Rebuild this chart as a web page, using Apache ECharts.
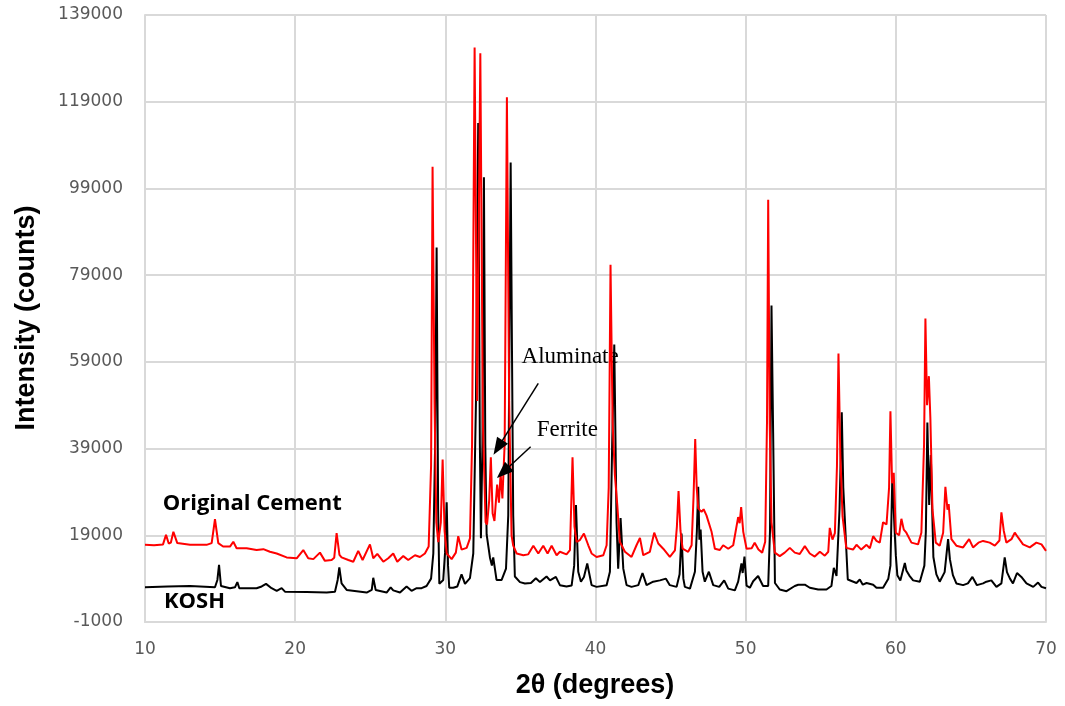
<!DOCTYPE html>
<html>
<head>
<meta charset="utf-8">
<script src="https://cdn.jsdelivr.net/npm/echarts@6/dist/echarts.min.js"></script>
<style>
  html, body { margin: 0; padding: 0; background: #ffffff; }
  #chart { width: 1065px; height: 706px; }
</style>
</head>
<body>
<div id="chart"></div>
<script>
// XRD patterns: [2θ (degrees), intensity (counts)]
const cementPattern = [
  [10.0,16800],[10.6,16700],[11.2,16900],[11.4,19100],[11.58,17100],[11.72,17300],[11.89,19800],[12.15,17200],
  [13.0,16800],[14.1,16800],[14.44,17200],[14.66,22700],[14.88,17200],[15.2,16400],[15.66,16400],[15.88,17500],
  [16.1,16000],[16.77,16000],[17.43,15600],[17.88,15800],[18.32,15200],[18.77,14800],[19.43,13900],[20.1,13700],
  [20.54,15600],[20.87,13700],[21.21,13500],[21.65,15000],[21.98,13100],[22.43,13300],[22.6,13800],[22.76,19500],
  [22.95,14500],[23.09,13900],[23.54,13300],[23.87,12900],[24.2,15400],[24.49,13300],[24.98,16900],[25.2,13700],
  [25.47,14700],[25.87,12900],[26.2,13700],[26.53,14800],[26.8,12900],[27.2,14200],[27.53,13300],[27.98,14400],
  [28.31,14000],[28.64,14800],[28.89,16400],[29.05,35000],[29.15,104000],[29.28,50000],[29.4,22000],[29.53,17400],
  [29.7,22000],[29.82,36500],[29.95,20000],[30.09,14800],[30.42,13500],[30.7,15000],[30.86,18800],[31.08,15700],
  [31.42,16100],[31.64,18300],[31.78,40000],[31.95,131500],[32.12,50000],[32.33,130200],[32.5,45000],[32.68,22000],
  [32.78,21500],[32.92,27000],[33.03,37000],[33.15,24000],[33.27,22300],[33.45,30700],[33.57,26500],[33.68,33200],
  [33.8,27500],[33.95,40000],[34.1,120000],[34.25,50000],[34.41,19000],[34.52,16600],[34.75,14800],[35.19,14400],
  [35.52,14600],[35.86,16600],[36.19,14800],[36.52,16600],[36.81,14800],[37.08,16600],[37.41,14400],[37.63,15200],
  [38.07,14600],[38.3,15600],[38.47,37000],[38.6,21000],[38.74,17500],[38.96,17900],[39.23,19400],[39.52,16700],
  [39.74,14800],[40.07,14000],[40.52,14400],[40.74,16700],[40.88,30000],[41.0,81400],[41.14,45000],[41.29,32900],
  [41.45,26000],[41.62,17500],[41.96,15200],[42.4,14000],[42.73,16700],[42.96,18400],[43.18,14400],[43.62,15200],
  [43.91,19600],[44.18,17100],[44.51,15900],[44.95,14000],[45.29,15500],[45.42,21000],[45.53,29200],[45.66,20000],
  [45.8,15900],[46.17,15200],[46.4,16700],[46.53,28000],[46.64,41200],[46.74,30000],[46.84,25200],[47.06,24400],
  [47.2,25000],[47.39,23600],[47.73,19800],[47.95,15900],[48.28,15600],[48.5,16700],[48.84,15900],[49.17,16700],
  [49.5,23200],[49.6,21800],[49.7,25500],[49.84,19800],[50.06,15900],[50.4,16000],[50.6,17300],[50.85,15700],
  [51.1,15000],[51.3,17500],[51.42,45000],[51.5,96400],[51.6,45000],[51.72,22000],[51.94,15000],[52.27,14200],
  [52.6,15000],[52.94,16100],[53.27,15000],[53.6,14700],[53.94,16500],[54.27,14800],[54.6,14100],[54.94,15200],
  [55.27,14300],[55.5,15200],[55.6,20700],[55.78,18000],[55.94,19500],[56.08,35000],[56.18,60900],[56.3,38000],
  [56.45,23400],[56.7,16100],[57.15,15700],[57.38,16800],[57.7,15700],[58.05,16800],[58.27,16000],[58.49,18800],
  [58.71,17700],[58.93,17300],[59.15,22000],[59.38,21500],[59.55,30000],[59.64,47600],[59.75,31000],[59.86,33400],
  [60.0,19600],[60.22,19000],[60.37,22800],[60.53,20300],[60.7,19600],[61.04,17300],[61.48,16900],[61.7,19600],
  [61.88,40000],[61.97,69000],[62.08,49000],[62.2,55700],[62.3,46000],[62.44,24900],[62.66,17300],[62.92,16600],
  [63.15,19600],[63.3,30200],[63.44,24900],[63.52,26200],[63.7,18100],[64.03,16600],[64.48,16200],[64.88,18100],
  [65.14,16200],[65.5,17300],[65.81,17700],[66.25,17300],[66.59,16600],[66.9,17800],[67.03,24300],[67.19,20000],
  [67.36,17300],[67.7,18100],[67.92,19600],[68.14,18500],[68.47,16900],[68.92,16200],[69.36,17300],[69.7,16900],
  [70.0,15400]
];

const koshPattern = [
  [10.0,7000],[11.5,7200],[13.0,7300],[14.66,7000],[14.82,8700],[14.93,12200],[15.06,7300],[15.66,6800],
  [15.99,7000],[16.15,8200],[16.28,6800],[17.43,6800],[17.77,7200],[18.06,7800],[18.43,6800],[18.77,6200],
  [19.1,6800],[19.32,6000],[20.76,5900],[22.1,5800],[22.65,6000],[22.83,8700],[22.94,11600],[23.09,7900],
  [23.43,6400],[24.76,5800],[25.1,6400],[25.2,9200],[25.36,6400],[26.09,5800],[26.36,7000],[26.53,6300],
  [26.64,6500],[26.98,5800],[27.42,7200],[27.75,6200],[28.09,6800],[28.42,6800],[28.75,7300],[29.05,9000],
  [29.2,14800],[29.32,40000],[29.42,85400],[29.52,25000],[29.6,7800],[29.86,8700],[29.98,15000],[30.09,26600],
  [30.18,12000],[30.26,6900],[30.53,6900],[30.8,7200],[31.08,10000],[31.31,7800],[31.64,9100],[31.86,14800],
  [32.04,50000],[32.19,114100],[32.3,40000],[32.37,18300],[32.47,40000],[32.57,101600],[32.66,40000],[32.75,19200],
  [32.97,13900],[33.1,12000],[33.19,13900],[33.41,8700],[33.75,8700],[34.04,11300],[34.19,23600],[34.35,105000],
  [34.44,60800],[34.52,23600],[34.63,9500],[34.97,8200],[35.3,7900],[35.7,8000],[36.03,9100],[36.3,8200],
  [36.74,9500],[36.97,8600],[37.36,9400],[37.63,7500],[38.07,7200],[38.41,7400],[38.58,12000],[38.7,26000],
  [38.85,10600],[39.03,8300],[39.23,9400],[39.45,12500],[39.74,7500],[40.07,7100],[40.74,7500],[40.96,10600],
  [41.11,40000],[41.25,63000],[41.4,22100],[41.51,11300],[41.67,23000],[41.85,11300],[42.07,7500],[42.4,7100],
  [42.85,7500],[43.13,10300],[43.4,7500],[43.84,8300],[44.29,8600],[44.69,9000],[44.95,7500],[45.4,7100],
  [45.6,10000],[45.73,19400],[45.85,9000],[45.95,7100],[46.29,6700],[46.62,10600],[46.75,20000],[46.84,30200],
  [46.92,18000],[47.0,20300],[47.13,10600],[47.28,8300],[47.55,10600],[47.84,7500],[48.24,7100],[48.57,8600],
  [48.84,6700],[49.28,6300],[49.5,8300],[49.72,12500],[49.8,10300],[49.92,14100],[50.06,7400],[50.28,6900],
  [50.5,8400],[50.83,9600],[51.16,7300],[51.5,7300],[51.62,20000],[51.72,72000],[51.83,42600],[51.95,8000],
  [52.27,6500],[52.72,6100],[53.27,7300],[53.5,7600],[53.94,7600],[54.27,6900],[54.83,6500],[55.38,6500],
  [55.71,7300],[55.87,11500],[56.05,9600],[56.25,25000],[56.4,47400],[56.5,30000],[56.6,29600],[56.8,8800],
  [57.38,8000],[57.6,8800],[57.8,7600],[58.05,8000],[58.49,7600],[58.71,6900],[59.15,6900],[59.5,9000],
  [59.64,12000],[59.77,33200],[59.9,21500],[60.0,14300],[60.1,9800],[60.3,8600],[60.6,12600],[60.7,10900],
  [60.9,9700],[61.15,8600],[61.6,8300],[61.9,12000],[62.0,20000],[62.1,45000],[62.22,26000],[62.33,37500],
  [62.5,14000],[62.7,10000],[62.92,8300],[63.25,10500],[63.48,18100],[63.6,13500],[63.8,9800],[64.03,7900],
  [64.48,7500],[64.8,7900],[65.1,9400],[65.4,7500],[65.81,7900],[66.03,8300],[66.36,8600],[66.7,7100],
  [67.03,7900],[67.25,13900],[67.4,10500],[67.6,9000],[67.8,7900],[68.07,10300],[68.36,9400],[68.7,7900],
  [69.15,7100],[69.47,8100],[69.7,7100],[70.0,6800]
];

// Axis scales
const thetaTicks = { min: 10, max: 70, step: 10 };
const countTicks = { min: -1000, max: 139000, step: 20000 };

// Phase annotations: arrow start / arrow head, in data units
const phaseArrows = [
  { name: 'Aluminate', from: [36.19, 54050], to: [33.51, 39260] },
  { name: 'Ferrite',   from: [35.68, 39420], to: [33.85, 33540] }
];

const gridColor = '#d9d9d9';
const tickColor = '#595959';

const chart = echarts.init(document.getElementById('chart'));

chart.setOption({
  animation: false,
  backgroundColor: '#ffffff',
  grid: { left: 145, right: 19, top: 15, bottom: 84 },
  xAxis: {
    type: 'value',
    min: thetaTicks.min, max: thetaTicks.max, interval: thetaTicks.step,
    axisLine: { show: true, onZero: false, lineStyle: { color: gridColor, width: 2 } },
    axisTick: { show: false },
    splitLine: { show: true, lineStyle: { color: gridColor, width: 2 } },
    axisLabel: { color: tickColor, fontFamily: 'DejaVu Sans', fontSize: 17, margin: 19 }
  },
  yAxis: {
    type: 'value',
    min: countTicks.min, max: countTicks.max, interval: countTicks.step,
    axisLine: { show: true, onZero: false, lineStyle: { color: gridColor, width: 2 } },
    axisTick: { show: false },
    splitLine: { show: true, lineStyle: { color: gridColor, width: 2 } },
    axisLabel: {
      color: tickColor, fontFamily: 'DejaVu Sans', fontSize: 17, margin: 22,
      formatter: v => String(Math.round(v))
    }
  },
  series: [
    {
      name: 'KOSH', type: 'line', data: koshPattern,
      symbol: 'none', lineStyle: { color: '#000000', width: 2 }, z: 2
    },
    {
      name: 'Original Cement', type: 'line', data: cementPattern,
      symbol: 'none', lineStyle: { color: '#ff0000', width: 2 }, z: 3,
      markLine: {
        silent: true,
        animation: false,
        label: { show: false },
        lineStyle: { color: '#000000', width: 1.5, type: 'solid' },
        emphasis: { disabled: true },
        data: phaseArrows.map(a => [
          { coord: a.from, symbol: 'none' },
          { coord: a.to, symbol: 'triangle', symbolSize: [13, 17] }
        ])
      }
    }
  ]
});

// Text annotations anchored in data coordinates
const toPx = p => chart.convertToPixel({ gridIndex: 0 }, p);
const annotations = [
  { text: 'Original Cement', at: [11.18, 26370], font: 'bold 22px "Open Sans"' },
  { text: 'KOSH', at: [11.26, 3680], font: 'bold 22px "Open Sans"' },
  { text: 'Aluminate', at: [35.08, 60180], font: '23px "Liberation Serif"' },
  { text: 'Ferrite', at: [36.08, 43280], font: '23px "Liberation Serif"' }
];

const graphics = annotations.map(a => {
  const p = toPx(a.at);
  return {
    type: 'text', x: p[0], y: p[1], silent: true,
    style: { text: a.text, font: a.font, fill: '#000000', textAlign: 'left', textVerticalAlign: 'middle' }
  };
});

graphics.push({
  type: 'text', x: 595, y: 686, silent: true,
  style: { text: '2θ (degrees)', font: 'bold 27px "Liberation Sans"', fill: '#000000',
           textAlign: 'center', textVerticalAlign: 'middle' }
});
graphics.push({
  type: 'text', x: 27, y: 318, rotation: Math.PI / 2, silent: true,
  style: { text: 'Intensity (counts)', font: 'bold 27px "Liberation Sans"', fill: '#000000',
           textAlign: 'center', textVerticalAlign: 'middle' }
});

chart.setOption({ graphic: graphics });
</script>
</body>
</html>
